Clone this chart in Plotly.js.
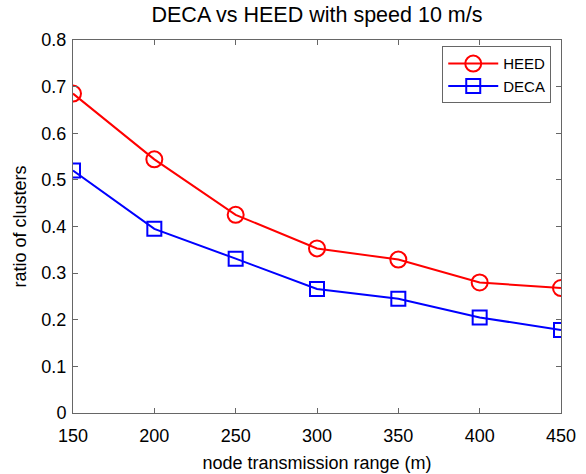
<!DOCTYPE html>
<html><head><meta charset="utf-8">
<script src="https://cdn.plot.ly/plotly-3.0.1.min.js"></script>
<style>html,body{margin:0;padding:0;background:#fff}#chart{width:586px;height:474px}</style>
</head><body><div id="chart"></div>
<script>
const ranges = [150, 200, 250, 300, 350, 400, 450];
const heed = [0.685, 0.544, 0.425, 0.353, 0.329, 0.280, 0.268];
const deca = [0.520, 0.395, 0.331, 0.266, 0.245, 0.205, 0.178];
const xTicks = [150, 200, 250, 300, 350, 400, 450];
const yTicks = [0, 0.1, 0.2, 0.3, 0.4, 0.5, 0.6, 0.7, 0.8];

const font = "Liberation Sans, Arial, sans-serif";
const traces = [
  {x: ranges, y: heed, name: 'HEED', type: 'scatter', mode: 'lines+markers',
   line: {color: '#ff0000', width: 2},
   marker: {symbol: 'circle-open', size: 16, color: '#ff0000', line: {width: 2}}},
  {x: ranges, y: deca, name: 'DECA', type: 'scatter', mode: 'lines+markers',
   line: {color: '#0000ff', width: 2},
   marker: {symbol: 'square-open', size: 14, color: '#0000ff', line: {width: 2}}}
];
const axisCommon = {showgrid: false, zeroline: false, showline: true, mirror: 'ticks',
  linecolor: '#666', linewidth: 1, ticks: 'inside', ticklen: 5, tickcolor: '#666',
  tickfont: {family: font, size: 18, color: '#000'}};
const layout = {
  width: 586, height: 474,
  margin: {l: 73, r: 25, t: 40, b: 61},
  paper_bgcolor: '#fff', plot_bgcolor: '#fff',
  font: {family: font, color: '#000'},
  title: {text: 'DECA vs HEED with speed 10 m/s', font: {family: font, size: 21.5, color: '#000'},
    xref: 'paper', x: 0.5, xanchor: 'center', y: 0.985, yanchor: 'top'},
  xaxis: Object.assign({}, axisCommon, {range: [150, 450], tickvals: xTicks,
    ticklabelstandoff: 6,
    title: {text: 'node transmission range (m)', font: {family: font, size: 18}, standoff: 11}}),
  yaxis: Object.assign({}, axisCommon, {range: [0, 0.8], tickvals: yTicks,
    ticktext: yTicks.map(v => v === 0 ? '0' : v.toFixed(1)),
    ticklabelstandoff: 2,
    title: {text: 'ratio of clusters', font: {family: font, size: 18}, standoff: 10}}),
  showlegend: true,
  legend: {x: 0.98, y: 0.983, xanchor: 'right', yanchor: 'top', bgcolor: '#fff',
    bordercolor: '#666', borderwidth: 1, font: {family: font, size: 15},
    tracegroupgap: 6, itemwidth: 50}
};
Plotly.newPlot('chart', traces, layout, {displayModeBar: false, staticPlot: true});
</script></body></html>
